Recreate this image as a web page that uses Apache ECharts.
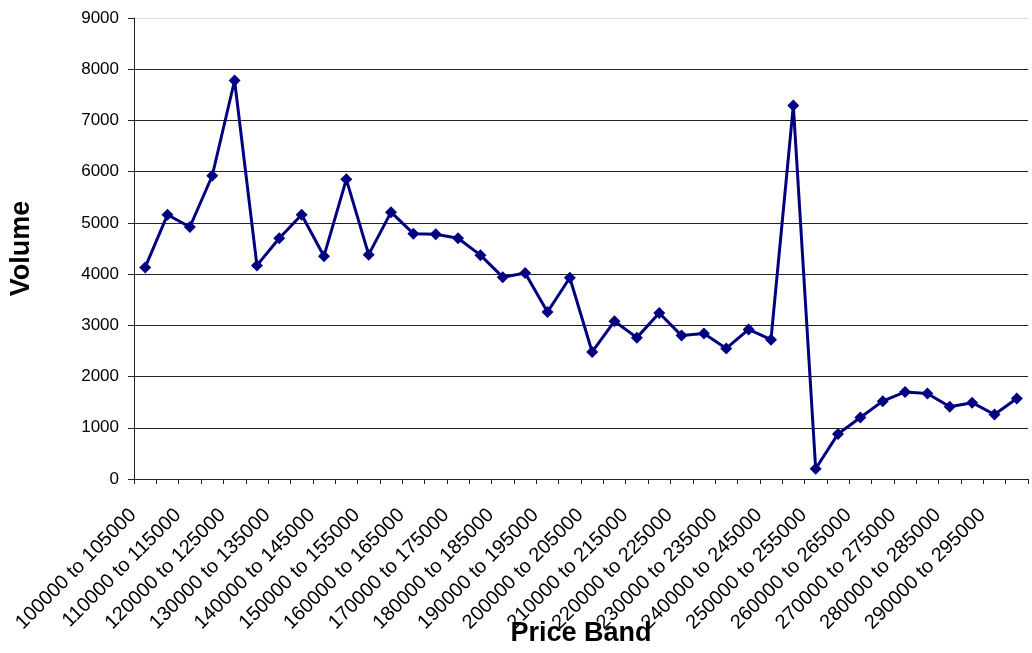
<!DOCTYPE html>
<html>
<head>
<meta charset="utf-8">
<title>Volume by Price Band</title>
<script src="https://cdn.jsdelivr.net/npm/echarts@6/dist/echarts.min.js"></script>
<style>
  html, body { margin: 0; padding: 0; background: #ffffff; }
  #chart { width: 1032px; height: 653px; }
</style>
</head>
<body>
<div id="chart"></div>
<script>
// Price bands (5000-wide buckets)
const priceBands = [
  '100000 to 105000', '105000 to 110000', '110000 to 115000', '115000 to 120000',
  '120000 to 125000', '125000 to 130000', '130000 to 135000', '135000 to 140000',
  '140000 to 145000', '145000 to 150000', '150000 to 155000', '155000 to 160000',
  '160000 to 165000', '165000 to 170000', '170000 to 175000', '175000 to 180000',
  '180000 to 185000', '185000 to 190000', '190000 to 195000', '195000 to 200000',
  '200000 to 205000', '205000 to 210000', '210000 to 215000', '215000 to 220000',
  '220000 to 225000', '225000 to 230000', '230000 to 235000', '235000 to 240000',
  '240000 to 245000', '245000 to 250000', '250000 to 255000', '255000 to 260000',
  '260000 to 265000', '265000 to 270000', '270000 to 275000', '275000 to 280000',
  '280000 to 285000', '285000 to 290000', '290000 to 295000', '295000 to 300000'
];

// Sales volume in each band
const volume = [
  4130, 5160, 4920, 5920, 7780, 4170, 4700, 5160, 4350, 5850,
  4380, 5210, 4790, 4780, 4700, 4370, 3940, 4020, 3260, 3930,
  2480, 3080, 2760, 3240, 2800, 2840, 2550, 2920, 2720, 7290,
  200, 880, 1200, 1520, 1700, 1670, 1410, 1490, 1260, 1570
];

const yMin = 0;
const yMax = 9000;
const yStep = 1000;

const FONT = 'Arial, "Liberation Sans", sans-serif';
const NAVY = '#000080';

// gridline colours, one per tick from 0 up to 9000; the top edge is lighter
const gridColors = ['#111', '#222', '#222', '#222', '#222', '#222', '#222', '#222', '#222', '#d9d9d9'];

const chart = echarts.init(document.getElementById('chart'), null, { renderer: 'canvas' });

chart.setOption({
  backgroundColor: '#ffffff',
  animation: false,
  grid: { left: 134, right: 4, top: 18, bottom: 174, containLabel: false, outerBoundsMode: 'none' },
  xAxis: {
    type: 'category',
    data: priceBands,
    boundaryGap: true,
    name: 'Price Band',
    nameLocation: 'middle',
    nameGap: 141,
    nameMoveOverlap: false,
    nameTextStyle: { fontFamily: FONT, fontSize: 27, fontWeight: 'bold', color: '#000' },
    axisLine: { show: true, lineStyle: { color: '#222', width: 1 } },
    axisTick: { show: true, interval: 0, length: 5, lineStyle: { color: '#222' } },
    axisLabel: {
      interval: 1,
      rotate: 45,
      margin: 21,
      padding: [0, 17, 0, 0],
      fontFamily: FONT,
      fontSize: 20,
      color: '#000'
    },
    splitLine: { show: false }
  },
  yAxis: {
    type: 'value',
    min: yMin,
    max: yMax,
    interval: yStep,
    name: 'Volume',
    nameLocation: 'middle',
    nameGap: 99,
    nameRotate: 90,
    nameMoveOverlap: false,
    nameTextStyle: { fontFamily: FONT, fontSize: 27, fontWeight: 'bold', color: '#000' },
    axisLine: { show: true, lineStyle: { color: '#222', width: 1 } },
    axisTick: { show: true, length: 6, lineStyle: { color: '#222' } },
    axisLabel: {
      margin: 15,
      fontFamily: FONT,
      fontSize: 17,
      color: '#000',
      formatter: (v) => String(v)
    },
    splitLine: { show: true, lineStyle: { color: gridColors, width: 1 } }
  },
  series: [{
    type: 'line',
    data: volume,
    symbol: 'diamond',
    symbolSize: 12,
    showAllSymbol: true,
    lineStyle: { color: NAVY, width: 3 },
    itemStyle: { color: NAVY, borderWidth: 0 },
    emphasis: { disabled: true }
  }]
});
</script>
</body>
</html>
